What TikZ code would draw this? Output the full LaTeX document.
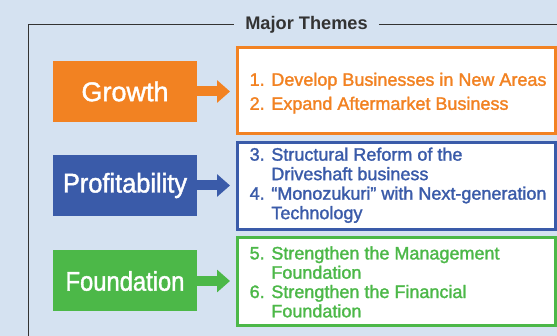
\documentclass[tikz,border=0pt]{standalone}
\usepackage{fontspec}
\setmainfont{Liberation Sans}[FakeBold=1.6]
\newfontfamily\titlefont{Liberation Sans Bold}
\usetikzlibrary{arrows.meta}
\definecolor{bg}{HTML}{D5E2F1}
\definecolor{cor}{HTML}{F28222}
\definecolor{cbl}{HTML}{3A5BA9}
\definecolor{cgr}{HTML}{4CB848}
\definecolor{frame}{HTML}{333333}
\tikzset{
  lbox/.style={minimum width=144pt, minimum height=61pt, inner sep=0pt, text=white, font=\fontsize{27}{30}\selectfont},
  rbox/.style={draw=#1, line width=3pt, fill=white, minimum width=318pt, inner sep=0pt},
  rtext/.style={anchor=west, inner sep=0pt, text=#1, align=left},
  arr/.style={draw=#1, line width=10pt, -{Triangle[width=22pt,length=13pt]}, shorten >=6pt},
}
\begin{document}
\begin{tikzpicture}[x=1pt,y=-1pt]
\useasboundingbox (0,0) rectangle (557,336);
\fill[bg] (0,0) rectangle (557,336);
% frame
\node[text=frame, inner xsep=11pt, font=\titlefont\fontsize{18.2}{20}\selectfont] (title) at (306.5,24.3) {Major Themes};
\coordinate (fl) at (28.3,337);
\coordinate (fr) at (558,24.3);
\draw[frame, line width=1.4pt] (fl) |- (title.west);
\draw[frame, line width=1.4pt] (title.east) -- (fr);
% left boxes
\node[lbox, fill=cor] (g) at (125,91.5) {Growth};
\node[lbox, fill=cbl] (p) at (125,185.5) {\scalebox{0.94}[1]{Profitability}};
\node[lbox, fill=cgr] (f) at (125,281) {\scalebox{0.88}[1]{Foundation}};
% right boxes
\node[rbox=cor, minimum height=86pt] (gt) at (396.5,90.5) {};
\node[rbox=cbl, minimum height=87pt] (pt) at (396.5,186) {};
\node[rbox=cgr, minimum height=88pt] (ft) at (396.5,281.5) {};
% texts
\node[rtext=cor, font=\fontsize{18}{24}\selectfont] (gtx) at ([xshift=13.5pt,yshift=-2.5pt]gt.west)
  {\begin{tabular}{@{}l@{ }l@{}}1. & Develop Businesses in New Areas\\ 2. & Expand Aftermarket Business\end{tabular}};
\node[rtext=cbl, font=\fontsize{18}{19.5}\selectfont] (ptx) at ([xshift=13.5pt]pt.west)
  {\begin{tabular}{@{}l@{ }l@{}}3. & Structural Reform of the\\ & Driveshaft business\\ 4. & “Monozukuri” with Next-generation\\ & Technology\end{tabular}};
\node[rtext=cgr, font=\fontsize{18}{19.3}\selectfont] (ftx) at ([xshift=13.5pt,yshift=-3pt]ft.west)
  {\begin{tabular}{@{}l@{ }l@{}}5. & Strengthen the Management\\ & Foundation\\ 6. & Strengthen the Financial\\ & Foundation\end{tabular}};
% arrows
\draw[arr=cor] (g.east) -- (g.east -| gt.west);
\draw[arr=cbl] (p.east) -- (p.east -| pt.west);
\draw[arr=cgr] (f.east) -- (f.east -| ft.west);
\end{tikzpicture}
\end{document}
